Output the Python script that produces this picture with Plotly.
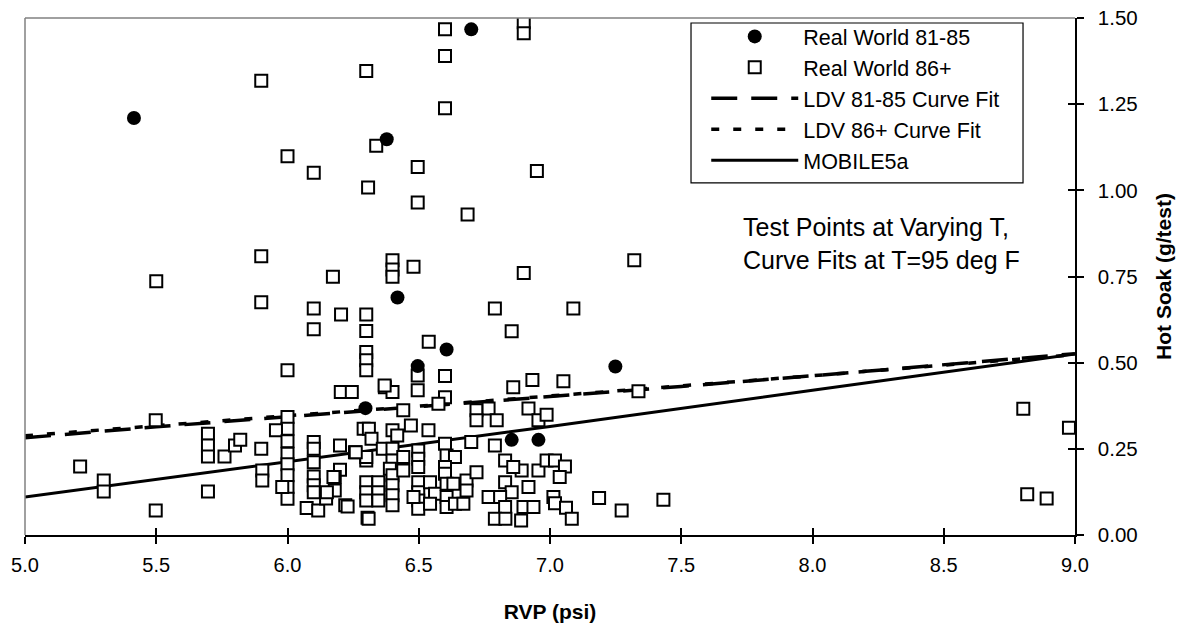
import plotly.graph_objects as go

# ---------------- data ----------------
rw8185_x = [5.415, 6.70, 6.378, 6.419, 6.606, 6.496, 6.297, 7.249, 6.854, 6.956]
rw8185_y = [1.210, 1.467, 1.148, 0.689, 0.538, 0.490, 0.368, 0.489, 0.276, 0.276]

rw86_x = [
    5.50, 5.90, 5.90, 5.90, 6.30, 6.60, 6.90, 6.90, 6.60, 6.60,
    6.338, 6.00, 6.10, 6.496, 6.95, 6.307, 6.496, 6.686, 6.40, 6.40,
    6.40, 6.48, 6.90, 6.173, 7.321, 6.10, 6.204, 6.30, 6.79, 7.089,
    6.10, 6.30, 6.854, 6.538, 6.30, 6.30, 6.30, 6.00, 6.496, 6.60,
    6.933, 6.496, 6.86, 7.051, 6.203, 6.245, 6.371, 6.40, 6.60, 6.575,
    7.337, 6.441, 6.72, 6.766, 6.918, 6.72, 6.797, 6.956, 6.987, 6.00,
    5.498, 6.00, 5.956, 6.29, 6.31, 6.32, 6.40, 6.418, 6.47, 6.537,
    5.90, 5.904, 5.904, 6.00, 6.00, 6.00, 6.00, 6.00, 6.00, 5.98,
    6.10, 6.10, 6.10, 6.10, 6.10, 6.10, 6.073, 6.117, 6.147, 6.20,
    6.20, 6.18, 6.18, 6.15, 6.22, 6.257, 6.30, 6.30, 6.305, 6.30,
    6.30, 6.30, 6.346, 6.346, 6.346, 6.363, 6.40, 6.40, 6.39, 6.40,
    6.40, 6.40, 6.40, 6.441, 6.441, 6.498, 6.498, 6.498, 6.498, 6.498,
    6.498, 6.498, 6.48, 6.543, 6.562, 6.543, 6.60, 6.606, 6.638, 6.60,
    6.60, 6.606, 6.632, 6.606, 6.606, 6.638, 6.67, 6.682, 6.682, 6.72,
    6.70, 6.79, 6.829, 6.892, 6.956, 6.86, 6.829, 6.854, 6.918, 6.766,
    6.81, 6.829, 6.899, 6.937, 6.79, 6.83, 6.89, 6.987, 7.019, 7.057,
    7.037, 7.013, 7.019, 7.061, 7.083, 7.187, 7.273, 7.432, 5.21, 5.30,
    5.30, 5.498, 5.697, 5.697, 5.697, 5.76, 5.80, 5.82, 5.697, 6.175,
    6.26, 6.309, 6.229, 6.37, 8.803, 8.977, 8.818, 8.892,
]
rw86_y = [
    0.736, 1.318, 0.809, 0.675, 1.346, 1.467, 1.488, 1.456, 1.390, 1.238,
    1.129, 1.099, 1.051, 1.068, 1.056, 1.008, 0.965, 0.930, 0.797, 0.770,
    0.749, 0.778, 0.760, 0.749, 0.797, 0.657, 0.640, 0.640, 0.657, 0.657,
    0.597, 0.592, 0.591, 0.561, 0.531, 0.507, 0.478, 0.478, 0.463, 0.461,
    0.450, 0.420, 0.429, 0.446, 0.415, 0.415, 0.429, 0.415, 0.400, 0.381,
    0.417, 0.362, 0.362, 0.367, 0.367, 0.333, 0.333, 0.333, 0.349, 0.342,
    0.333, 0.308, 0.304, 0.308, 0.308, 0.279, 0.304, 0.289, 0.318, 0.304,
    0.250, 0.187, 0.158, 0.272, 0.236, 0.205, 0.173, 0.139, 0.105, 0.139,
    0.270, 0.250, 0.211, 0.170, 0.144, 0.124, 0.078, 0.071, 0.106, 0.260,
    0.189, 0.168, 0.129, 0.124, 0.086, 0.240, 0.216, 0.226, 0.050, 0.153,
    0.124, 0.100, 0.153, 0.124, 0.100, 0.250, 0.250, 0.216, 0.192, 0.173,
    0.144, 0.115, 0.086, 0.226, 0.187, 0.245, 0.221, 0.197, 0.153, 0.124,
    0.100, 0.076, 0.110, 0.153, 0.120, 0.091, 0.265, 0.231, 0.226, 0.197,
    0.178, 0.149, 0.149, 0.110, 0.081, 0.091, 0.091, 0.158, 0.129, 0.182,
    0.270, 0.260, 0.216, 0.187, 0.187, 0.197, 0.153, 0.124, 0.139, 0.110,
    0.110, 0.081, 0.081, 0.081, 0.047, 0.047, 0.042, 0.216, 0.216, 0.199,
    0.168, 0.110, 0.092, 0.079, 0.047, 0.107, 0.071, 0.102, 0.199, 0.158,
    0.126, 0.071, 0.294, 0.260, 0.228, 0.228, 0.260, 0.276, 0.126, 0.168,
    0.240, 0.047, 0.083, 0.434, 0.366, 0.311, 0.118, 0.106,
]

fit_x = [5.0, 5.5, 6.0, 6.5, 7.0, 7.5, 8.0, 8.5, 9.0]
ldv8185_y = [0.282, 0.314, 0.343, 0.372, 0.401, 0.431, 0.462, 0.494, 0.526]
ldv86_y = [0.288, 0.318, 0.346, 0.374, 0.403, 0.432, 0.462, 0.493, 0.523]

mob_x = [5.0, 6.0, 7.0, 8.0, 9.0]
mob_y = [0.110, 0.212, 0.315, 0.420, 0.525]

x_ticks = [5.0, 5.5, 6.0, 6.5, 7.0, 7.5, 8.0, 8.5, 9.0]
y_ticks = [0.0, 0.25, 0.5, 0.75, 1.0, 1.25, 1.5]

names = ["Real World 81-85", "Real World 86+", "LDV 81-85 Curve Fit",
         "LDV 86+ Curve Fit", "MOBILE5a"]
note_lines = ["Test Points at Varying T,", "Curve Fits at T=95 deg F"]

# ---------------- figure ----------------
FONT = "Liberation Sans, Arial, sans-serif"
fig = go.Figure()

fig.add_trace(go.Scatter(x=fit_x, y=ldv8185_y, mode="lines", name=names[2],
                         line=dict(color="black", width=3.5, dash="26px,14px"),
                         legendrank=3, legendgroup="g3"))
fig.add_trace(go.Scatter(x=fit_x, y=ldv86_y, mode="lines", name=names[3],
                         line=dict(color="black", width=3.5, dash="8px,14px"),
                         legendrank=4, legendgroup="g4"))
fig.add_trace(go.Scatter(x=mob_x, y=mob_y, mode="lines", name=names[4],
                         line=dict(color="black", width=3),
                         legendrank=5, legendgroup="g5"))
fig.add_trace(go.Scatter(x=rw86_x, y=rw86_y, mode="markers", name=names[1],
                         marker=dict(symbol="square", size=12, color="white",
                                     line=dict(color="black", width=2)),
                         legendrank=2, legendgroup="g2"))
fig.add_trace(go.Scatter(x=rw8185_x, y=rw8185_y, mode="markers", name=names[0],
                         marker=dict(symbol="circle", size=14, color="black",
                                     line=dict(width=0)),
                         legendrank=1, legendgroup="g1"))
# helper (empty) trace for the secondary tick axes
fig.add_trace(go.Scatter(x=[], y=[], xaxis="x2", yaxis="y2", showlegend=False,
                         hoverinfo="skip"))

fig.update_layout(
    width=1187, height=631,
    margin=dict(l=25, r=112, t=18, b=96, autoexpand=False),
    paper_bgcolor="white", plot_bgcolor="white",
    font=dict(family=FONT, size=20, color="black"),
    showlegend=True,
    legend=dict(x=0.6488, y=1.004, xanchor="left", yanchor="top",
                bgcolor="rgba(0,0,0,0)", borderwidth=0,
                font=dict(family=FONT, size=21.5, color="black"),
                itemwidth=87, tracegroupgap=0),
    xaxis=dict(range=[5, 9], tickvals=x_ticks,
               ticktext=[f"{v:.1f}" for v in x_ticks],
               showline=True, linecolor="black", linewidth=2,
               ticks="outside", ticklen=7, tickwidth=1.5, tickcolor="black",
               showgrid=False, zeroline=False, ticklabelstandoff=4,
               automargin=False,
               tickfont=dict(family=FONT, size=20),
               title=dict(text="<b>RVP (psi)</b>", standoff=29,
                          font=dict(family=FONT, size=21))),
    xaxis2=dict(range=[5, 9], overlaying="x", anchor="y", side="bottom",
                tickvals=x_ticks, showticklabels=False, ticks="inside",
                ticklen=7, tickwidth=1.5, tickcolor="black",
                showline=False, showgrid=False, zeroline=False),
    yaxis=dict(range=[0, 1.5], side="right", tickvals=y_ticks,
               ticktext=[f"{v:.2f}" for v in y_ticks],
               showline=True, linecolor="black", linewidth=1.5,
               ticks="outside", ticklen=7, tickwidth=1.5, tickcolor="black",
               showgrid=False, zeroline=False,
               ticklabelstandoff=10, automargin=False,
               tickfont=dict(family=FONT, size=20.5),
               title=dict(text="<b>Hot Soak (g/test)</b>", standoff=20,
                          font=dict(family=FONT, size=21))),
    yaxis2=dict(range=[0, 1.5], overlaying="y", anchor="x", side="right",
                tickvals=y_ticks, showticklabels=False, ticks="inside",
                ticklen=7, tickwidth=1.5, tickcolor="black",
                showline=False, showgrid=False, zeroline=False),
    shapes=[
        dict(type="line", xref="paper", yref="paper", x0=0, x1=0, y0=0, y1=1,
             line=dict(color="#808080", width=1.5)),
        dict(type="line", xref="paper", yref="paper", x0=0, x1=1, y0=1, y1=1,
             line=dict(color="#808080", width=1.5)),
        dict(type="rect", xref="paper", yref="paper", x0=0.6343, x1=0.9505,
             y0=0.6809, y1=0.9903, layer="above",
             line=dict(color="black", width=1.2), fillcolor="rgba(0,0,0,0)"),
    ],
    annotations=[
        dict(text=note_lines[0], xref="paper", yref="paper", x=0.6819, y=0.5957,
             xanchor="left", yanchor="middle", showarrow=False,
             font=dict(family=FONT, size=25)),
        dict(text=note_lines[1], xref="paper", yref="paper", x=0.6819, y=0.5319,
             xanchor="left", yanchor="middle", showarrow=False,
             font=dict(family=FONT, size=25)),
    ],
)

fig.write_html("out.html")
